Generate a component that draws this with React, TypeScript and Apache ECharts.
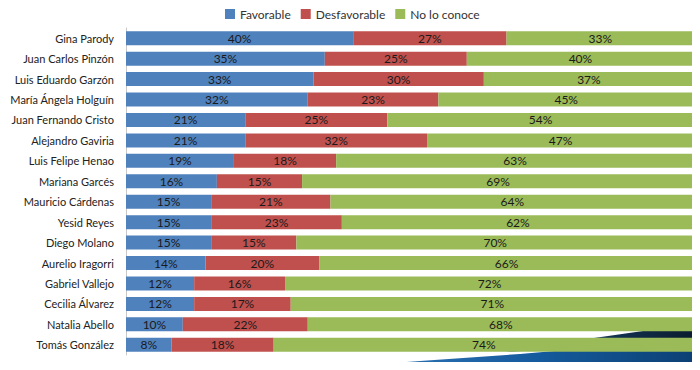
import React, { useEffect, useRef } from "react";
import * as echarts from "echarts";

const categories = [
  "Gina Parody",
  "Juan Carlos Pinzón",
  "Luis Eduardo Garzón",
  "María Ángela Holguín",
  "Juan Fernando Cristo",
  "Alejandro Gaviria",
  "Luis Felipe Henao",
  "Mariana Garcés",
  "Mauricio Cárdenas",
  "Yesid Reyes",
  "Diego Molano",
  "Aurelio Iragorri",
  "Gabriel Vallejo",
  "Cecilia Álvarez",
  "Natalia Abello",
  "Tomás González",
];
const favorable = [40, 35, 33, 32, 21, 21, 19, 16, 15, 15, 15, 14, 12, 12, 10, 8];
const desfavorable = [27, 25, 30, 23, 25, 32, 18, 15, 21, 23, 15, 20, 16, 17, 22, 18];
const noLoConoce = [33, 40, 37, 45, 54, 47, 63, 69, 64, 62, 70, 66, 72, 71, 68, 74];
const seriesNames = ["Favorable", "Desfavorable", "No lo conoce"];
const colors = ["#4F81BD", "#C0504D", "#9BBB59"];

export default function App() {
  const ref = useRef<HTMLDivElement>(null);
  useEffect(() => {
    if (!ref.current) return;
    const chart = echarts.init(ref.current, null, { renderer: "svg" });
    const font = "Lato";
    const data = [favorable, desfavorable, noLoConoce];
    chart.setOption({
      animation: false,
      textStyle: { fontFamily: font },
      legend: {
        left: 220,
        top: 3,
        itemWidth: 10,
        itemHeight: 10,
        itemGap: 10,
        icon: "rect",
        textStyle: { fontFamily: font, fontSize: 12, color: "#333" },
        data: seriesNames,
      },
      grid: { left: 126, right: 6, top: 28, bottom: 15, containLabel: false },
      xAxis: { type: "value", min: 0, max: 100, show: false },
      yAxis: {
        type: "category",
        inverse: true,
        data: categories,
        axisLine: { show: true, lineStyle: { color: "#c8c8c8", width: 1 } },
        axisTick: { show: false },
        axisLabel: { margin: 12, fontFamily: font, fontSize: 11, color: "#222" },
      },
      graphic: [
        {
          type: "polygon",
          z: -10,
          silent: true,
          shape: { points: [[300, 370], [420, 361], [520, 354], [600, 347], [700, 336], [700, 370]] },
          style: {
            fill: new echarts.graphic.LinearGradient(0, 0, 1, 0, [
              { offset: 0, color: "#3a7fc0" },
              { offset: 0.6, color: "#155a9c" },
              { offset: 1, color: "#0c3f73" },
            ]),
          },
        },
        {
          type: "polygon",
          z: -9,
          silent: true,
          shape: { points: [[505, 352], [580, 340], [650, 330], [700, 326], [700, 345], [620, 346]] },
          style: {
            fill: new echarts.graphic.LinearGradient(0, 0, 1, 0, [
              { offset: 0, color: "#1d4f80" },
              { offset: 1, color: "#0a1a2b" },
            ]),
          },
        },
      ],
      series: seriesNames.map((name, i) => ({
        name,
        type: "bar",
        stack: "total",
        barWidth: 14,
        z: 5,
        itemStyle: { color: colors[i] },
        label: {
          show: true,
          position: "inside",
          formatter: "{c}%",
          fontFamily: font,
          fontSize: 12,
          color: "#1a1a1a",
        },
        data: data[i],
      })),
    });
    return () => chart.dispose();
  }, []);
  return <div ref={ref} style={{ width: 700, height: 370, margin: -8 }} />;
}
